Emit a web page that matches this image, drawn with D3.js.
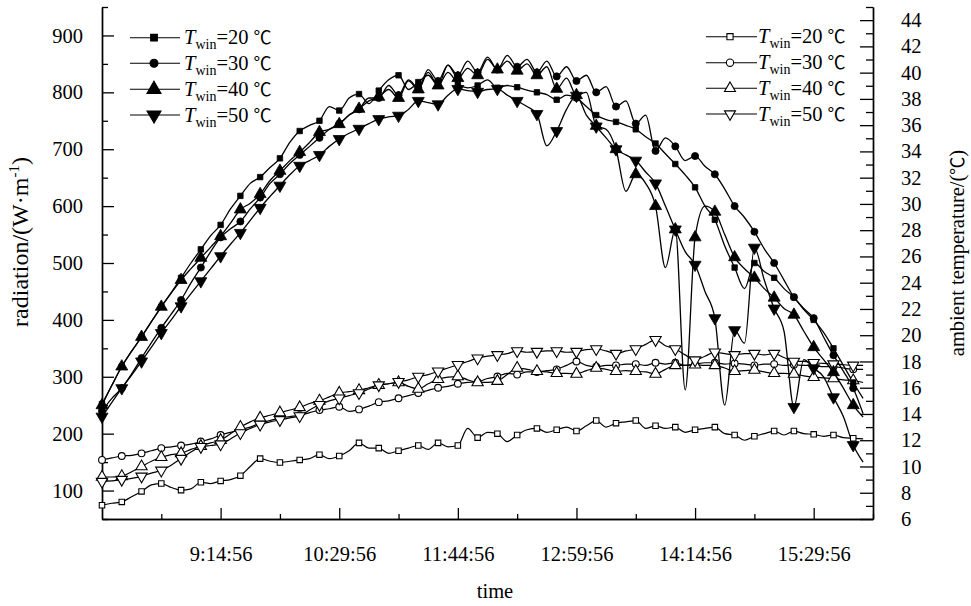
<!DOCTYPE html>
<html>
<head>
<meta charset="utf-8">
<script src="https://cdn.jsdelivr.net/npm/d3@7/dist/d3.min.js"></script>
<style>
  body { margin: 0; background: #fff; }
  svg { display: block; }
  text { font-family: "Liberation Serif", Tinos, "Times New Roman", Times, serif; fill: #000; }
  .cjk { font-family: "Noto Sans CJK SC", "Noto Sans CJK JP", sans-serif; }
</style>
</head>
<body>
<svg id="chart" width="971" height="606"></svg>
<script>
// Logging started at 7:59:56, one reading every 6.25 minutes.
const startTime = "7:59:56";
const stepMinutes = 6.25;
const spanMinutes = 487.5;
const timeTickLabels = ["9:14:56", "10:29:56", "11:44:56", "12:59:56", "14:14:56", "15:29:56"];

// Solar radiation, W/m2, one series per window temperature
const radiation20 = [252,285,318,345,370,397,423,448,474,500,524,548,567,595,618,640,651,668,684,712,732,742,750,775,768,790,797,780,803,822,830,805,818,830,812,835,815,808,812,822,808,812,809,804,800,796,787,795,790,775,760,752,748,742,735,722,710,692,674,655,633,600,576,530,492,455,500,485,474,455,440,418,400,378,350,320,290,262];
const radiation30 = [240,262,280,305,333,360,386,410,435,465,492,520,545,560,573,595,615,640,656,675,690,705,720,735,745,760,770,790,790,812,795,822,808,840,820,848,830,855,835,862,840,865,845,858,835,855,828,845,820,830,800,810,775,785,745,760,697,720,705,680,688,670,656,630,600,580,555,525,500,470,440,420,403,370,338,310,280,235];
const radiation40 = [250,285,318,345,370,397,423,447,470,490,509,528,547,570,594,605,621,645,662,680,695,712,730,735,744,760,771,785,792,805,790,820,805,835,812,848,825,842,830,858,840,855,838,850,830,845,806,825,795,800,741,735,700,626,656,640,600,492,559,277,545,600,590,550,510,490,474,455,439,420,409,380,352,330,308,280,250,229];
const radiation50 = [230,255,280,303,327,352,377,400,424,446,468,490,512,533,553,575,597,617,636,655,671,680,690,705,718,728,736,745,753,757,759,770,785,782,779,795,806,803,801,805,806,795,785,775,762,706,732,770,794,760,740,720,700,690,680,660,640,600,559,520,497,450,403,250,382,359,527,470,420,380,247,330,315,300,264,230,180,150];

// Ambient temperature, degrees C
const ambient20 = [7.05,7.2,7.3,7.7,8.1,8.6,8.7,8.4,8.2,8.3,8.8,8.7,8.9,9.0,9.3,10.0,10.6,10.4,10.3,10.4,10.5,10.6,10.9,10.6,10.8,11.2,11.8,11.4,11.4,11.0,11.2,11.4,11.6,11.3,11.8,11.5,11.6,12.9,12.2,12.6,12.5,11.9,12.4,12.8,12.9,12.6,12.8,13.0,12.7,13.1,13.5,13.0,13.3,13.4,13.5,12.9,13.1,12.9,13.0,12.6,12.8,12.9,13.0,12.5,12.4,12.0,12.3,12.5,12.7,12.4,12.7,12.5,12.45,12.3,12.4,12.2,12.15,12.1];
const ambient30 = [10.5,10.65,10.8,10.85,11.0,11.2,11.4,11.5,11.6,11.7,11.9,12.1,12.4,12.6,12.8,13.0,13.3,13.5,13.7,13.8,13.9,14.1,14.3,14.4,14.55,14.2,14.35,14.6,14.9,15.0,15.2,15.4,15.6,15.8,16.0,16.1,16.3,16.4,16.45,16.7,16.85,17.1,17.0,17.2,17.2,17.3,17.4,17.7,18.0,17.7,17.6,17.7,17.7,17.8,17.8,17.7,17.9,17.8,17.9,17.7,17.8,17.9,17.9,17.8,17.85,17.8,17.7,17.8,17.8,17.7,17.75,17.7,17.7,17.6,17.6,17.5,17.4,17.4];
const ambient40 = [9.2,9.2,9.25,9.6,10.0,10.4,10.7,10.9,11.0,11.3,11.55,11.8,12.0,12.5,13.0,13.4,13.7,13.9,14.1,14.3,14.5,14.8,15.0,15.3,15.6,15.7,15.8,16.0,16.2,16.3,16.4,16.1,15.9,16.3,16.65,16.8,16.85,16.6,16.4,16.4,16.5,17.0,17.5,17.4,17.25,17.2,17.1,17.1,17.05,17.3,17.5,17.4,17.25,17.3,17.25,17.2,17.05,17.4,17.7,17.7,17.75,17.7,17.7,17.5,17.25,17.3,17.35,17.2,17.1,17.1,17.05,16.9,16.8,16.75,16.7,16.6,16.55,16.4];
const ambient50 = [8.85,8.9,9.0,9.1,9.25,9.5,9.7,10.1,10.6,11.1,11.5,11.6,11.7,12.1,12.55,12.9,13.2,13.4,13.55,13.7,13.85,14.3,14.7,15.0,15.2,15.4,15.6,15.9,16.2,16.3,16.45,16.6,16.85,17.0,17.25,17.5,17.75,18.0,18.25,18.4,18.5,18.6,18.8,18.7,18.75,18.8,18.8,18.7,18.75,18.9,18.95,18.8,18.6,18.8,18.95,19.3,19.65,19.2,18.95,18.5,18.1,18.4,18.7,18.6,18.5,18.6,18.6,18.5,18.6,18.3,18.0,18.0,17.9,17.85,17.8,17.75,17.7,17.7];

const windowTemps = [20, 30, 40, 50];

const parseClock = s => { const [h, m, sec] = s.split(":").map(Number); return h * 3600 + m * 60 + sec; };
const t0 = parseClock(startTime);
const times = radiation20.map((_, i) => t0 + i * stepMinutes * 60);

const svg = d3.select("#chart");
const frame = { left: 102, right: 873, top: 7, bottom: 519 };

const x = d3.scaleLinear().domain([t0, t0 + spanMinutes * 60]).range([frame.left, frame.right]);
const yRad = d3.scaleLinear().domain([50, 950]).range([frame.bottom, frame.top]);
const yAmb = d3.scaleLinear().domain([6, 45]).range([frame.bottom, frame.top]);

const font = 20.5;

// --- axes ---
const majorX = timeTickLabels.map(parseClock);
const minorX = d3.range(1, 14, 2).map(k => t0 + k * 37.5 * 60);

function styleAxis(g) {
  g.attr("font-family", null).attr("font-size", font);
  g.select(".domain").attr("stroke", "#000").attr("stroke-width", 1.4);
  g.selectAll(".tick line").attr("stroke", "#000").attr("stroke-width", 1.3);
  g.selectAll(".tick text").attr("font-size", font);
}

svg.append("g").attr("transform", `translate(0,${frame.bottom})`)
  .call(d3.axisBottom(x).tickValues(minorX).tickSizeInner(-5).tickSizeOuter(0).tickFormat(""))
  .call(styleAxis);
svg.append("g").attr("transform", `translate(0,${frame.bottom})`)
  .call(d3.axisBottom(x).tickValues(majorX).tickSizeInner(-11).tickSizeOuter(0)
    .tickPadding(27).tickFormat((d, i) => timeTickLabels[i]))
  .call(styleAxis);

svg.append("g").attr("transform", `translate(${frame.left},0)`)
  .call(d3.axisLeft(yRad).tickValues(d3.range(50, 951, 100)).tickSizeInner(-6).tickSizeOuter(0).tickFormat(""))
  .call(styleAxis);
svg.append("g").attr("transform", `translate(${frame.left},0)`)
  .call(d3.axisLeft(yRad).tickValues(d3.range(100, 901, 100)).tickSizeInner(-12).tickSizeOuter(0).tickPadding(19))
  .call(styleAxis);

svg.append("g").attr("transform", `translate(${frame.right},0)`)
  .call(d3.axisRight(yAmb).tickValues(d3.range(7, 46, 2)).tickSizeInner(-7).tickSizeOuter(0).tickFormat(""))
  .call(styleAxis);
svg.append("g").attr("transform", `translate(${frame.right},0)`)
  .call(d3.axisRight(yAmb).tickValues(d3.range(6, 45, 2)).tickSizeInner(-13).tickSizeOuter(0).tickPadding(28))
  .call(styleAxis);

// --- axis titles ---
const leftTitle = svg.append("text")
  .attr("transform", "translate(28,242) rotate(-90)")
  .attr("text-anchor", "middle").attr("font-size", 24);
leftTitle.append("tspan").text("radiation/(W·m");
leftTitle.append("tspan").attr("font-size", 15).attr("dy", -9).text("-1");
leftTitle.append("tspan").attr("dy", 9).text(")");

const rightTitle = svg.append("text")
  .attr("transform", "translate(964,253) rotate(-90)")
  .attr("text-anchor", "middle").attr("font-size", 20.5);
rightTitle.append("tspan").text("ambient temperature/(");
rightTitle.append("tspan").attr("class", "cjk").attr("font-size", 18).text("℃");
rightTitle.append("tspan").text(")");

svg.append("text").attr("x", 495).attr("y", 598).attr("text-anchor", "middle")
  .attr("font-size", font).text("time");

// --- marker shapes (d3 symbol areas) ---
const shapes = [
  { rad: d3.symbolSquare, radSize: 30, amb: d3.symbolSquare, ambSize: 30, legRad: 45, legAmb: 38 },
  { rad: d3.symbolCircle, radSize: 40, amb: d3.symbolCircle, ambSize: 36, legRad: 50, legAmb: 42 },
  { rad: d3.symbolTriangle, radSize: 62, amb: d3.symbolTriangle, ambSize: 55, legRad: 85, legAmb: 52 },
  { rad: d3.symbolTriangle, radSize: 62, amb: d3.symbolTriangle, ambSize: 55, legRad: 85, legAmb: 52, flip: true }
];

function markerPath(type, size) { return d3.symbol().type(type).size(size)(); }

const radiationSeries = [radiation20, radiation30, radiation40, radiation50];
const ambientSeries = [ambient20, ambient30, ambient40, ambient50];

const plot = svg.append("g");

const lineRad = d3.line().x((d, i) => x(times[i])).y(d => yRad(d)).curve(d3.curveMonotoneX);
const lineAmb = d3.line().x((d, i) => x(times[i])).y(d => yAmb(d)).curve(d3.curveMonotoneX);

ambientSeries.forEach(s => {
  plot.append("path").datum(s).attr("d", lineAmb)
    .attr("fill", "none").attr("stroke", "#000").attr("stroke-width", 1.2);
});
radiationSeries.forEach(s => {
  plot.append("path").datum(s).attr("d", lineRad)
    .attr("fill", "none").attr("stroke", "#000").attr("stroke-width", 1.3);
});

function drawMarkers(series, yScale, shape, size, filled, flip) {
  const pts = series.map((v, i) => ({ v, i })).filter(d => d.i % 2 === 0);
  plot.append("g").selectAll("path").data(pts).join("path")
    .attr("d", markerPath(shape, size))
    .attr("transform", d => `translate(${x(times[d.i])},${yScale(d.v)})${flip ? " rotate(180)" : ""}`)
    .attr("fill", filled ? "#000" : "#fff")
    .attr("stroke", "#000").attr("stroke-width", filled ? 0.8 : 1.1);
}

ambientSeries.forEach((s, k) => drawMarkers(s, yAmb, shapes[k].amb, shapes[k].ambSize, false, shapes[k].flip));
radiationSeries.forEach((s, k) => drawMarkers(s, yRad, shapes[k].rad, shapes[k].radSize, true, shapes[k].flip));

// --- legends ---
function legend(x1, x2, xm, xt, rows, filled) {
  const g = svg.append("g");
  windowTemps.forEach((tw, k) => {
    const y = rows[k];
    g.append("line").attr("x1", x1).attr("x2", x2).attr("y1", y).attr("y2", y)
      .attr("stroke", "#000").attr("stroke-width", 1.1);
    const sh = shapes[k];
    g.append("path")
      .attr("d", markerPath(filled ? sh.rad : sh.amb, filled ? sh.legRad : sh.legAmb))
      .attr("transform", `translate(${xm},${y})${sh.flip ? " rotate(180)" : ""}`)
      .attr("fill", filled ? "#000" : "#fff").attr("stroke", "#000").attr("stroke-width", 1.1);
    const t = g.append("text").attr("x", xt).attr("y", y + 6.5).attr("font-size", font);
    t.append("tspan").attr("font-style", "italic").text("T");
    t.append("tspan").attr("font-size", 14).attr("dy", 5).text("win");
    t.append("tspan").attr("dy", -5).text(`=${tw} `);
    t.append("tspan").attr("class", "cjk").attr("font-size", 18).text("℃");
  });
}
legend(130, 180, 154, 184, [37.7, 63.3, 89.3, 115], true);
legend(706, 757, 730, 758, [36.7, 62.7, 88.3, 114], false);
</script>
</body>
</html>
